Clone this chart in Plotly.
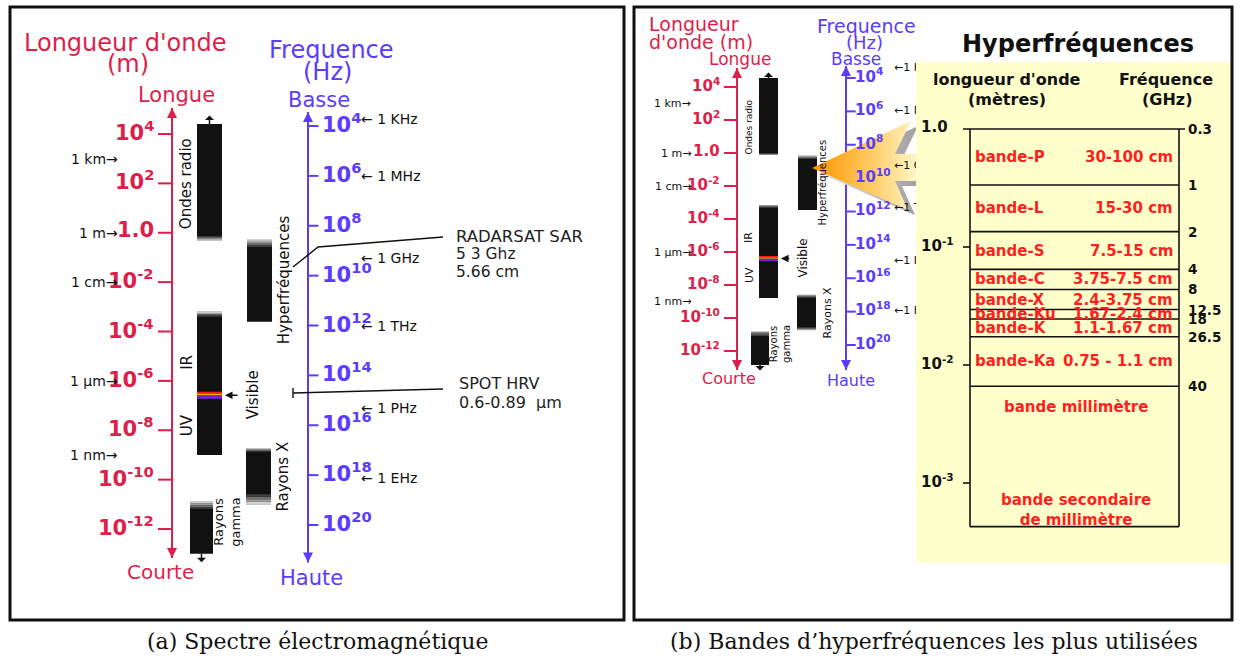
import plotly.graph_objects as go

W, H = 1241, 658
SANS = "DejaVu Sans"
SERIF = "DejaVu Serif"
RED = "#dc1f4b"
BLUE = "#5a3cff"
BAND_RED = "#ff1f1f"
TABLE_BG = "#ffffcc"
INK = "#111111"

# ---------------------------------------------------------------- data
# wavelength scale (exponent of metres) and its tick labels
wl_tick_exp = [4, 2, 0, -2, -4, -6, -8, -10, -12]
wl_tick_text = ["10<sup>4</sup>", "10<sup>2</sup>", "1.0", "10<sup>-2</sup>", "10<sup>-4</sup>",
                "10<sup>-6</sup>", "10<sup>-8</sup>", "10<sup>-10</sup>", "10<sup>-12</sup>"]
wl_marker_text = ["1 km", "1 m", "1 cm", "1 µm", "1 nm"]
wl_marker_exp = [3, 0, -2, -6, -9]

# frequency scale (exponent of Hz)
fq_tick_exp = [4, 6, 8, 10, 12, 14, 16, 18, 20]
fq_tick_text = ["10<sup>4</sup>", "10<sup>6</sup>", "10<sup>8</sup>", "10<sup>10</sup>", "10<sup>12</sup>",
                "10<sup>14</sup>", "10<sup>16</sup>", "10<sup>18</sup>", "10<sup>20</sup>"]
fq_marker_text = ["1 KHz", "1 MHz", "1 GHz", "1 THz", "1 PHz", "1 EHz"]
fq_marker_exp_a = [3.7, 6.0, 9.3, 12.0, 15.3, 18.1]
fq_marker_exp_b = [3.4, 6.0, 9.3, 11.8, 15.0, 17.95]

# spectral domains (wavelength exponent, as drawn)
band_labels = ["Ondes radio", "Hyperfréquences", "IR / UV", "Rayons X", "Rayons<br>gamma"]
band_top_a = [4.4, -0.25, -3.2, -8.75, -10.9]
band_bot_a = [-0.3, -3.6, -9.0, -11.0, -13.0]
band_top_b = [4.55, -0.12, -3.15, -8.6, -10.79]
band_bot_b = [-0.12, -3.45, -8.79, -10.73, -12.85]
visible_colors = ["#ff1a1a", "#ffb300", "#7a1fd6"]
visible_edges_a = [-6.44, -6.52, -6.59, -6.73]
visible_edges_b = [-6.24, -6.33, -6.41, -6.55]
ir_uv_exp_a = [-5.27, -7.8]
ir_uv_exp_b = [-5.15, -7.4]

# satellites
sar_lines = ["RADARSAT SAR", "5 3 Ghz", "5.66 cm"]
spot_lines = ["SPOT HRV", "0.6-0.89  µm"]

# microwave bands table (log10 of wavelength in metres, as drawn)
mw_band = ["bande-P", "bande-L", "bande-S", "bande-C", "bande-X", "bande-Ku", "bande-K", "bande-Ka"]
mw_range = ["30-100 cm", "15-30 cm", "7.5-15 cm", "3.75-7.5 cm", "2.4-3.75 cm",
            "1.67-2.4 cm", "1.1-1.67 cm", "0.75 - 1.1 cm"]
mw_edge_ghz = ["0.3", "1", "2", "4", "8", "12.5", "18", "26.5", "40"]
mw_edge_log_m = [0.0, -0.475, -0.87, -1.19, -1.36, -1.53, -1.61, -1.76, -2.18]
mw_table_bottom = -3.37
mw_tick_log_m = [0, -1, -2, -3]
mw_tick_text = ["1.0", "10<sup>-1</sup>", "10<sup>-2</sup>", "10<sup>-3</sup>"]
mm_labels = ["bande millimètre", "bande secondaire<br>de millimètre"]
mm_label_log_m = [-2.36, -3.23]


# ---------------------------------------------------------------- scales
def span(v0, p0, v1, p1):
    k = (v1 - v0) / (p1 - p0)
    return [v0 + (H - p0) * k, v0 + (0 - p0) * k]


scales = {
    "y": [H, 0],
    "y2": span(4, 134, -12, 529),   # (a) wavelength
    "y3": span(4, 126, 20, 525),    # (a) frequency
    "y4": span(4, 87, -12, 351),    # (b) wavelength
    "y5": span(4, 78, 20, 345),     # (b) frequency
    "y6": span(0, 129, -3, 483),    # (b) table
}


def upp(yref):
    r = scales[yref]
    return abs(r[1] - r[0]) / H


shapes, ann = [], []


def line(x0, y0, x1, y1, yref="y", color=INK, width=1.5, layer="below"):
    shapes.append(dict(type="line", x0=x0, x1=x1, y0=y0, y1=y1, xref="x", yref=yref,
                       line=dict(color=color, width=width), layer=layer))


def rect(x0, y0, x1, y1, yref="y", fill=INK, lc=None, lw=0, layer="below"):
    shapes.append(dict(type="rect", x0=x0, x1=x1, y0=y0, y1=y1, xref="x", yref=yref,
                       fillcolor=fill, line=dict(color=lc or fill, width=lw), layer=layer))


def text(x, y, s, yref="y", size=14, color=INK, xa="center", ya="middle", angle=0,
         weight="normal", family=SANS, yshift=0, xshift=0, align="center"):
    ann.append(dict(x=x, y=y, xref="x", yref=yref, text=s, showarrow=False,
                    font=dict(family=family, size=size, color=color, weight=weight),
                    xanchor=xa, yanchor=ya, textangle=angle, yshift=yshift, xshift=xshift,
                    align=align))


def arrow(x, y, yref, ax, ay, color=INK, width=2, head=2, side="end", size=1.0):
    ann.append(dict(x=x, y=y, xref="x", yref=yref, ax=ax, ay=ay, text="", showarrow=True,
                    arrowhead=head, arrowsize=size, arrowwidth=width, arrowcolor=color,
                    arrowside=side, standoff=0, startstandoff=0))


def bar(x0, x1, top, bot, yref, fade_top=0, fade_bot=0):
    rect(x0, top, x1, bot, yref)
    grays = ["#d0d0d0", "#a0a0a0", "#707070", "#404040"]
    n = len(grays)
    if fade_top:
        st = fade_top * upp(yref) / n
        for i, g in enumerate(grays):
            rect(x0, top - i * st, x1, top - (i + 1) * st, yref, fill=g)
    if fade_bot:
        st = fade_bot * upp(yref) / n
        for i, g in enumerate(grays):
            rect(x0, bot + i * st, x1, bot + (i + 1) * st, yref, fill=g)


def spectrum_panel(P, tops, bots, vis_edges, irv, fq_marker_exp, fq_as_traces):
    wy, fy = P["wl_ref"], P["fq_ref"]
    s = P["s"]
    for t in P["titles"]:
        x, y, st, size, col = t[:5]
        xa = t[5] if len(t) > 5 else "center"
        text(x, y, st, "y", size, col, xa=xa)
    # wavelength axis
    ax_ = P["wl_x"]
    line(ax_, P["wl_lim"][0], ax_, P["wl_lim"][1], wy, RED, 2)
    arrow(ax_, P["wl_lim"][0], wy, 0, 12 * s, RED, 2)
    arrow(ax_, P["wl_lim"][1], wy, 0, -12 * s, RED, 2)
    for e, t in zip(wl_tick_exp, wl_tick_text):
        line(ax_ - P["tick"], e, ax_, e, wy, RED, 2)
        text(ax_ - P["tick"] - 2, e, t, wy, P["tick_fs"], RED, xa="right", weight="bold", yshift=3 * s)
    for e, t in zip(wl_marker_exp, wl_marker_text):
        text(P["wlm_x"], e, t + "→", wy, P["mk_fs"], INK, xa="right")
    # frequency axis
    fx = P["fq_x"]
    line(fx, P["fq_lim"][0], fx, P["fq_lim"][1], fy, BLUE, 2)
    arrow(fx, P["fq_lim"][0], fy, 0, 12 * s, BLUE, 2)
    arrow(fx, P["fq_lim"][1], fy, 0, -12 * s, BLUE, 2)
    for e in fq_tick_exp:
        line(fx, e, fx + P["tick"] * 0.75, e, fy, BLUE, 2)
    if not fq_as_traces:
        for e, t in zip(fq_tick_exp, fq_tick_text):
            text(fx + P["tick"] * 0.75 + 1, e, t, fy, P["tick_fs"], BLUE, xa="left", weight="bold", yshift=3 * s)
        for e, t in zip(fq_marker_exp, fq_marker_text):
            text(P["fqm_x"], e, "← " + t, fy, P["mk_fs"], INK, xa="left")
    # domain bars
    for i, (x0, x1) in enumerate(P["bar_x"]):
        ft, fb = P["fades"][i]
        bar(x0, x1, tops[i], bots[i], wy, ft, fb)
    for c, a, b in zip(visible_colors, vis_edges[:-1], vis_edges[1:]):
        rect(P["bar_x"][2][0], a, P["bar_x"][2][1], b, wy, fill=c)
    # small arrows at open ends
    rx = (P["bar_x"][0][0] + P["bar_x"][0][1]) / 2
    arrow(rx, tops[0], wy, 0, -10 * s, INK, 1.5, side="start")
    gx = (P["bar_x"][4][0] + P["bar_x"][4][1]) / 2
    arrow(gx, bots[4], wy, 0, 10 * s, INK, 1.5, side="start")
    vis_c = (vis_edges[0] + vis_edges[-1]) / 2
    arrow(P["bar_x"][2][1] + 3, vis_c, wy, 14 * s, 0, INK, 1.5)
    # rotated labels
    lab = P["labels"]
    text(lab[0][0], (tops[0] + bots[0]) / 2, "Ondes radio", wy, lab[0][1], INK, angle=-90, yshift=lab[0][2])
    text(lab[1][0], (tops[1] + bots[1]) / 2, "Hyperfréquences", wy, lab[1][1], INK, angle=-90, yshift=lab[1][2])
    text(lab[2][0], irv[0], "IR", wy, lab[2][1], INK, angle=-90)
    text(lab[2][0], irv[1], "UV", wy, lab[2][1], INK, angle=-90)
    text(lab[3][0], vis_c, "Visible", wy, lab[3][1], INK, angle=-90)
    text(lab[4][0], (tops[3] + bots[3]) / 2, "Rayons X", wy, lab[4][1], INK, angle=-90, yshift=lab[4][2])
    text(lab[5][0], (tops[4] + bots[4]) / 2, "Rayons<br>gamma", wy, lab[5][1], INK, angle=-90,
         yshift=lab[5][2])


# ------------------------------------------------------------ panel (a)
PA = dict(
    s=1.0, wl_ref="y2", fq_ref="y3", wl_x=172, fq_x=308, tick=14, tick_fs=21, mk_fs=14,
    wlm_x=120, fqm_x=359, wl_lim=(5.05, -13.17), fq_lim=(3.44, 21.5),
    titles=[(125, 43, "Longueur d'onde", 24, RED), (128, 64, "(m)", 24, RED),
            (176, 95, "Longue", 21, RED), (160, 572, "Courte", 20, RED),
            (331, 50, "Frequence", 24, BLUE), (327, 72, "(Hz)", 24, BLUE),
            (319, 100, "Basse", 21, BLUE), (311, 578, "Haute", 21, BLUE)],
    bar_x=[(197, 222), (247, 272), (197, 222), (246, 271), (190, 213)],
    fades=[(0, 4), (8, 0), (5, 0), (3, 10), (7, 0)],
    labels=[(186, 15, -2), (284, 15, 0), (187, 15, 0), (253, 15, 0), (283, 15, 0), (227, 13, 6)],
)
spectrum_panel(PA, band_top_a, band_bot_a, visible_edges_a, ir_uv_exp_a, fq_marker_exp_a, False)
# satellite call-outs
shapes.append(dict(type="path", path="M293,267 L318,247 L443,237", xref="x", yref="y",
                   line=dict(color=INK, width=1.4), layer="below"))
shapes.append(dict(type="path", path="M293,393 L443,389 M293,388 L293,398", xref="x", yref="y",
                   line=dict(color=INK, width=1.4), layer="below"))
for i, t in enumerate(sar_lines):
    text(454, 236 + 18 * i, t, "y", 16.5 if i == 0 else 15.5, "#222222", xa="left")
for i, t in enumerate(spot_lines):
    text(457, 383 + 19 * i, t, "y", 16, "#222222", xa="left")

# ------------------------------------------------------------ panel (b)
PB = dict(
    s=0.7, wl_ref="y4", fq_ref="y5", wl_x=737, fq_x=846, tick=13, tick_fs=15, mk_fs=11,
    wlm_x=693, fqm_x=897, wl_lim=(5.15, -13.15), fq_lim=(3.28, 21.5),
    titles=[(647, 24, "Longueur", 19, RED, "left"), (647, 42, "d'onde (m)", 19, RED, "left"),
            (740, 59, "Longue", 17, RED), (729, 378, "Courte", 16, RED),
            (866, 26, "Frequence", 19, BLUE), (864, 42, "(Hz)", 18, BLUE),
            (856, 59, "Basse", 17, BLUE), (851, 380, "Haute", 16, BLUE)],
    bar_x=[(759, 778), (798, 817), (759, 778), (797, 816), (751, 769)],
    fades=[(0, 2), (4, 0), (3, 0), (3, 3), (5, 0)],
    labels=[(749, 9, -11), (822, 10, 0), (749, 11, 0), (803, 12, 0), (827, 11, 0), (780, 10, 4)],
)
spectrum_panel(PB, band_top_b, band_bot_b, visible_edges_b, ir_uv_exp_b, fq_marker_exp_b, True)

traces = [
    go.Scatter(x=[PB["fq_x"] + 9] * len(fq_tick_exp), y=fq_tick_exp, yaxis="y5", mode="text",
               text=["<b>" + t + "</b>" for t in fq_tick_text], textposition="middle right",
               textfont=dict(family=SANS, size=15, color=BLUE), hoverinfo="skip", showlegend=False),
    go.Scatter(x=[PB["fqm_x"] - 3] * len(fq_marker_exp_b), y=fq_marker_exp_b, yaxis="y5", mode="text",
               text=["←" + t for t in fq_marker_text], textposition="middle right",
               textfont=dict(family=SANS, size=11, color=INK), hoverinfo="skip", showlegend=False),
]

# big orange 3-D arrow (table -> microwave domain)
arrow_x = [812, 911, 895, 917, 917, 895, 908, 812]
arrow_y = [168, 121, 154, 154, 181, 181, 210, 168]
traces.append(go.Scatter(x=[v + 7 for v in arrow_x], y=[v + 5 for v in arrow_y], mode="lines",
                         fill="toself", line=dict(width=0, color="rgba(0,0,0,0)"),
                         fillgradient=dict(type="horizontal",
                                           colorscale=[[0, "#e8e8e8"], [1, "#9a9a9a"]]),
                         hoverinfo="skip", showlegend=False))
traces.append(go.Scatter(x=arrow_x, y=arrow_y, mode="lines", fill="toself",
                         line=dict(width=0, color="rgba(0,0,0,0)"),
                         fillgradient=dict(type="horizontal",
                                           colorscale=[[0, "#ff9200"], [0.45, "#ffc04a"], [1, "#fff6c8"]]),
                         hoverinfo="skip", showlegend=False))

# table (drawn above traces so it clips the frequency call-outs)
rect(916, 62, 1231, 563, "y", fill=TABLE_BG, layer="above")
TX0, TX1 = 970, 1179
line(TX0 - 7, mw_edge_log_m[0], TX1 + 6, mw_edge_log_m[0], "y6", INK, 1.6, "above")
for e in mw_edge_log_m[1:]:
    line(TX0, e, TX1, e, "y6", INK, 1.6, "above")
line(TX0, mw_table_bottom, TX1, mw_table_bottom, "y6", INK, 1.6, "above")
line(TX0, mw_edge_log_m[0], TX0, mw_table_bottom, "y6", INK, 1.6, "above")
line(TX1, mw_edge_log_m[0], TX1, mw_table_bottom, "y6", INK, 1.6, "above")
for e, t in zip(mw_tick_log_m, mw_tick_text):
    if e != mw_tick_log_m[0]:
        line(TX0 - 7, e, TX0, e, "y6", INK, 1.6, "above")
    text(919, e, t, "y6", 15, INK, xa="left", weight="bold", yshift=2)
for e, t in zip(mw_edge_log_m, mw_edge_ghz):
    text(1186, e, t, "y6", 13.5, INK, xa="left", weight="bold")
for i, (b, r) in enumerate(zip(mw_band, mw_range)):
    mid = (mw_edge_log_m[i] + mw_edge_log_m[i + 1]) / 2
    text(973, mid, b, "y6", 15, BAND_RED, xa="left", weight="bold")
    text(1175, mid, r, "y6", 15, BAND_RED, xa="right", weight="bold")
for e, t in zip(mm_label_log_m, mm_labels):
    text(1076, e, t, "y6", 15, BAND_RED, weight="bold")
text(1078, 44, "Hyperfréquences", "y", 24, INK, weight="bold")
text(1007, 79, "longueur d'onde", "y", 16, INK, weight="bold")
text(1007, 99, "(mètres)", "y", 16, INK, weight="bold")
text(1166, 79, "Fréquence", "y", 16, INK, weight="bold")
text(1167, 99, "(GHz)", "y", 16, INK, weight="bold")

# frames and captions
rect(10, 7, 624, 620, "y", fill="rgba(0,0,0,0)", lc=INK, lw=3, layer="above")
rect(634, 7, 1232, 620, "y", fill="rgba(0,0,0,0)", lc=INK, lw=3, layer="above")
text(318, 641, "(a) Spectre électromagnétique", "y", 22, INK, family=SERIF)
text(934, 641, "(b) Bandes d’hyperfréquences les plus utilisées", "y", 22, INK, family=SERIF)

fig = go.Figure(traces)
layout_axes = {}
for name, rng in scales.items():
    key = "yaxis" if name == "y" else "yaxis" + name[1:]
    d = dict(range=rng, visible=False, fixedrange=True, showgrid=False, zeroline=False)
    if name != "y":
        d["overlaying"] = "y"
    layout_axes[key] = d
fig.update_layout(
    width=W, height=H, autosize=False, margin=dict(l=0, r=0, t=0, b=0),
    paper_bgcolor="white", plot_bgcolor="white", hovermode=False, showlegend=False,
    xaxis=dict(range=[0, W], visible=False, fixedrange=True, showgrid=False, zeroline=False),
    shapes=shapes, annotations=ann, **layout_axes,
)
fig.write_html("out.html", config={"displayModeBar": False},
               post_script="document.body.style.margin='0';document.body.style.overflow='hidden';")
